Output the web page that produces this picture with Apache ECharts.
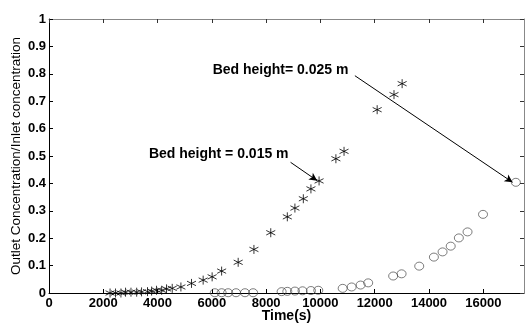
<!DOCTYPE html>
<html>
<head>
<meta charset="utf-8">
<script src="https://cdn.jsdelivr.net/npm/echarts@6/dist/echarts.min.js"></script>
<style>
	html, body { margin: 0; padding: 0; background: #fff; }
	#main { width: 526px; height: 323px; }
</style>
</head>
<body>
<div id="main"></div>
<script>
// bed height 0.015 m (stars)
var timeA = [2250, 2450, 2650, 2820, 3020, 3230, 3410, 3630, 3780, 3960, 4150, 4330, 4540, 4860, 5250, 5680, 6010, 6360,
	6970, 7550, 8170, 8780, 9060, 9370, 9650, 9950, 10570, 10870, 12090, 12710, 13010];
var concA = [0.0, 0.0, 0.0, 0.003, 0.003, 0.003, 0.004, 0.005, 0.007, 0.01, 0.01, 0.015, 0.017, 0.022, 0.035, 0.047, 0.059, 0.08,
	0.112, 0.159, 0.22, 0.278, 0.31, 0.344, 0.38, 0.409, 0.49, 0.517, 0.669, 0.724, 0.764];
// bed height 0.025 m (circles)
var timeB = [6110, 6360, 6600, 6890, 7220, 7520, 8570, 8780, 9060, 9340, 9650, 9920,
	10820, 11150, 11480, 11760, 12680, 12990, 13640, 14180, 14500, 14800, 15100, 15420, 15990, 17200];
var concB = [0.001, 0.001, 0.001, 0.001, 0.001, 0.001, 0.005, 0.006, 0.007, 0.008, 0.009, 0.01,
	0.017, 0.022, 0.029, 0.037, 0.062, 0.07, 0.098, 0.131, 0.15, 0.171, 0.201, 0.223, 0.287, 0.404];

var xTicks = [0, 2000, 4000, 6000, 8000, 10000, 12000, 14000, 16000];
var yTicks = [0, 0.1, 0.2, 0.3, 0.4, 0.5, 0.6, 0.7, 0.8, 0.9, 1];

// annotations: text position, arrow start, arrow end (data coords)
var noteA = { text: 'Bed height = 0.015 m', at: [3680, 0.505], from: [8900, 0.477], to: [9880, 0.41] };
var noteB = { text: 'Bed height= 0.025 m', at: [6030, 0.815], from: [11270, 0.793], to: [17080, 0.404] };

function pairs(xs, ys) {
	var out = [];
	for (var i = 0; i < xs.length; i++) {
		out.push([xs[i], ys[i]]);
	}
	return out;
}

var starPath = 'path://M0,-10L0,10M-8.7,-5L8.7,5M-8.7,5L8.7,-5';
var font = '"Liberation Sans", Arial, sans-serif';

var myChart = echarts.init(document.getElementById('main'));
var option = {
	animation: false,
	grid: { left: 49, right: 2, top: 19, bottom: 30, containLabel: false, outerBoundsMode: 'none' },
	xAxis: [{
		type: 'value',
		min: 0,
		max: 17500,
		name: 'Time(s)',
		nameLocation: 'middle',
		nameMoveOverlap: false,
		nameGap: 16,
		nameTextStyle: { fontFamily: font, fontWeight: 'bold', fontSize: 14, color: '#000' },
		axisLine: { onZero: false, lineStyle: { color: '#000', width: 1 } },
		axisTick: { inside: true, length: 4, customValues: xTicks, lineStyle: { color: '#000' } },
		axisLabel: {
			customValues: xTicks, margin: 4, fontFamily: font, fontWeight: 'bold', fontSize: 13, color: '#000',
			formatter: function(v) { return String(v); }
		},
		splitLine: { show: false }
	}, {
		type: 'value',
		position: 'top',
		min: 0,
		max: 17500,
		axisLine: { show: true, onZero: false, lineStyle: { color: '#888', width: 1 } },
		axisTick: { show: true, inside: true, length: 4, customValues: xTicks, lineStyle: { color: '#333' } },
		axisLabel: { show: false },
		splitLine: { show: false }
	}],
	yAxis: [{
		type: 'value',
		min: 0,
		max: 1,
		interval: 0.1,
		name: 'Outlet Concentration/Inlet concentration',
		nameLocation: 'middle',
		nameMoveOverlap: false,
		nameGap: 26,
		nameTextStyle: { fontFamily: font, fontSize: 13.5, color: '#000' },
		axisLine: { show: true, onZero: false, lineStyle: { color: '#000', width: 1 } },
		axisTick: { show: true, inside: true, length: 4, customValues: yTicks, lineStyle: { color: '#000' } },
		axisLabel: { customValues: yTicks, margin: 3, fontFamily: font, fontWeight: 'bold', fontSize: 13, color: '#000' },
		splitLine: { show: false }
	}, {
		type: 'value',
		position: 'right',
		min: 0,
		max: 1,
		interval: 0.1,
		axisLine: { show: true, onZero: false, lineStyle: { color: '#888', width: 1 } },
		axisTick: { show: true, inside: true, length: 4, customValues: yTicks, lineStyle: { color: '#333' } },
		axisLabel: { show: false },
		splitLine: { show: false }
	}],
	series: [{
		name: '0.015 m',
		type: 'scatter',
		data: pairs(timeA, concA),
		symbol: starPath,
		symbolSize: 9,
		itemStyle: { color: 'none', borderColor: '#000', borderWidth: 1 },
		markLine: {
			silent: true,
			symbol: ['none', 'arrow'],
			symbolSize: [6, 8],
			label: { show: false },
			lineStyle: { color: '#000', width: 1, type: 'solid' },
			data: [
				[{ coord: noteA.from }, { coord: noteA.to }],
				[{ coord: noteB.from }, { coord: noteB.to }]
			]
		}
	}, {
		name: '0.025 m',
		type: 'scatter',
		data: pairs(timeB, concB),
		symbol: 'circle',
		symbolSize: [9, 8],
		itemStyle: { color: 'none', borderColor: '#333', borderWidth: 0.8 }
	}]
};
myChart.setOption(option);

// 注释文字
var pA = myChart.convertToPixel({ gridIndex: 0 }, noteA.at);
var pB = myChart.convertToPixel({ gridIndex: 0 }, noteB.at);
myChart.setOption({
	graphic: [{
		type: 'text', x: pA[0], y: pA[1],
		style: { text: noteA.text, font: 'bold 14px ' + font, fill: '#000', textVerticalAlign: 'middle' }
	}, {
		type: 'text', x: pB[0], y: pB[1],
		style: { text: noteB.text, font: 'bold 14px ' + font, fill: '#000', textVerticalAlign: 'middle' }
	}]
});
</script>
</body>
</html>
